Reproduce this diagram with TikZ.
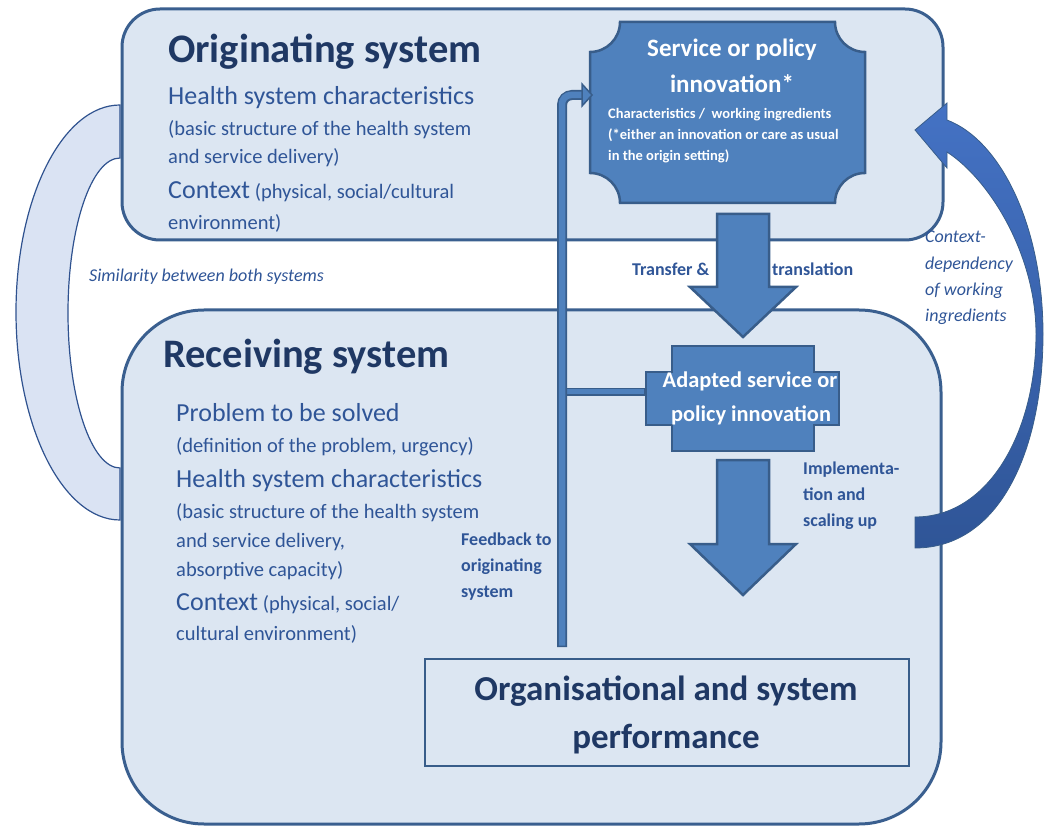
\documentclass[tikz,border=0pt]{standalone}
\usepackage{fontspec}
\setmainfont{Carlito}
\usetikzlibrary{calc}
\definecolor{sysfill}{HTML}{DCE6F2}
\definecolor{sysborder}{HTML}{3A5F8F}
\definecolor{navy}{HTML}{1F3864}
\definecolor{txtblue}{HTML}{2F5597}
\definecolor{boxblue}{HTML}{4F81BD}
\definecolor{boxborder}{HTML}{385D8A}
\definecolor{simfill}{HTML}{DAE3F3}
\definecolor{simborder}{HTML}{2F528F}
\definecolor{arrtop}{HTML}{4472C4}
\definecolor{arrbot}{HTML}{2F5597}
\newcommand\fsz[2]{\fontsize{#1}{#2}\selectfont}
\begin{document}
\begin{tikzpicture}[x=1pt,y=-1pt,
  txt/.style={inner sep=0pt, anchor=base west, text=txtblue},
  title/.style={inner sep=0pt, anchor=base west, text=navy, font=\bfseries\fsz{40.5}{46}},
  big/.style={txt, font=\fsz{26}{30}},
  small/.style={txt, font=\fsz{20.5}{24}},
  lbl/.style={txt, font=\bfseries\fsz{18}{21}},
  ital/.style={txt, font=\itshape\fsz{18}{21}},
  whitebig/.style={inner sep=0pt, anchor=base, text=white, font=\bfseries\fsz{25}{30}},
  whitesmall/.style={inner sep=0pt, anchor=base west, text=white, font=\bfseries\fsz{14.5}{17}},
  sysbox/.style={fill=sysfill, draw=sysborder, line width=3pt},
  blockarrow/.style={fill=boxblue, draw=boxborder, line width=2.5pt, line join=miter},
]
\useasboundingbox (0,0) rectangle (1045,826);

% similarity band (left)
\path[fill=simfill, draw=simborder, line width=1.2pt]
  (120,105) .. controls (62.6,105) and (16,197.7) .. (16,312)
  .. controls (16,426.3) and (62.6,520) .. (120,520)
  -- (120,468)
  .. controls (91.3,468) and (68,398.6) .. (68,313)
  .. controls (68,227.4) and (91.3,158) .. (120,158) -- cycle;

% system boxes
\draw[sysbox, rounded corners=38pt] (122,9) rectangle (943,240);
\draw[sysbox, rounded corners=82pt] (122,310) rectangle (941,824);
\node[inner sep=0pt, minimum width=0pt] (orig) at (532,124) {};
\node[inner sep=0pt] (recv) at (532,567) {};

% organisational box
\node[draw=boxborder, line width=1.2pt, minimum width=484pt, minimum height=107pt, inner sep=0pt] (perf) at (667,712.5) {};
\node[inner sep=0pt, anchor=base, text=navy, font=\bfseries\fsz{35}{40}] (perf1) at (666,700) {Organisational and system};
\node[inner sep=0pt, anchor=base, text=navy, font=\bfseries\fsz{35}{40}] (perf2) at (666,748) {performance};

% originating texts
\node[title] (otitle) at (168,63) {Originating system};
\node[big] (o1) at (168,105) {Health system characteristics};
\node[small] (o2) at (168,136) {(basic structure of the health system};
\node[small] (o3) at (168,164) {and service delivery)};
\node[small] (o4) at (168,199) {{\fsz{26}{30}Context} (physical, social/cultural};
\node[small] (o5) at (168,230) {environment)};

% receiving texts
\node[title] (rtitle) at (163,368) {Receiving system};
\node[big] (r1) at (176,422) {Problem to be solved};
\node[small] (r2) at (176,453) {(definition of the problem, urgency)};
\node[big] (r3) at (176,487) {Health system characteristics};
\node[small] (r4) at (176,518) {(basic structure of the health system};
\node[small] (r5) at (176,547) {and service delivery,};
\node[small] (r6) at (176,576) {absorptive capacity)};
\node[small] (r7) at (176,610) {{\fsz{26}{30}Context} (physical, social/};
\node[small] (r8) at (176,640) {cultural environment)};

% service / policy innovation plaque
\path[blockarrow]
  (590,52) .. controls (606.6,52) and (620,38.6) .. (620,22)
  -- (835,22) .. controls (835,38.6) and (848.4,52) .. (865,52)
  -- (865,173) .. controls (848.4,173) and (835,186.4) .. (835,203)
  -- (620,203) .. controls (620,186.4) and (606.6,173) .. (590,173) -- cycle;
\node[inner sep=0pt] (service) at (727.5,112.5) {};
\node[whitebig] (s1) at (732,57) {Service or policy};
\node[whitebig] (s2) at (732,93) {innovation*};
\node[whitesmall] (s3) at (608,119) {Characteristics /\ \ working ingredients};
\node[whitesmall] (s4) at (608,140) {(*either an innovation or care as usual};
\node[whitesmall] (s5) at (608,161) {in the origin setting)};

% adapted box (cross shape)
\path[blockarrow]
  (672,346) -- (814,346) -- (814,372) -- (839,372) -- (839,425) -- (814,425)
  -- (814,451) -- (672,451) -- (672,425) -- (646,425) -- (646,372) -- (672,372) -- cycle;
\node[inner sep=0pt] (adapted) at (743,398) {};
\node[inner sep=0pt, anchor=base, text=white, font=\bfseries\fsz{22.4}{26}] (a1) at (750,388) {Adapted service or};
\node[inner sep=0pt, anchor=base, text=white, font=\bfseries\fsz{22.4}{26}] (a2) at (751,422) {policy innovation};

% transfer arrow
\path[blockarrow] (717,214) -- (769,214) -- (769,287) -- (796,287) -- (743,337) -- (690,287) -- (717,287) -- cycle;
\node[lbl] (tr1) at (632,276) {Transfer \&};
\node[lbl] (tr2) at (772,276) {translation};

% implementation arrow
\path[blockarrow] (717,460) -- (769,460) -- (769,544) -- (796,544) -- (743,595) -- (690,544) -- (717,544) -- cycle;
\node[lbl] (im1) at (803,475) {Implementa-};
\node[lbl] (im2) at (803,500) {tion and};
\node[lbl] (im3) at (803,526) {scaling up};

% feedback arrow
\coordinate (fbstart) at (562,647);
\coordinate (fbstartin) at (562,645.5);
\coordinate (fbcorner) at (562,95);
\coordinate (fbend) at (584,95);
\coordinate (brstart) at (562,392);
\coordinate (brend) at (645,392);
\coordinate (brendin) at (643.5,392);
\draw[boxborder, line width=8pt] (brstart) -- (brend);
\draw[boxblue, line width=5pt] (brstart) -- (brendin);
\draw[boxborder, line width=10pt, rounded corners=10pt] (fbstart) -- (fbcorner) -- (fbend);
\draw[boxblue, line width=6.5pt, rounded corners=9pt] (fbstartin) -- (fbcorner) -- (fbend);
\path[fill=boxblue, draw=boxborder, line width=1.5pt, line join=miter] (582,84) -- (592,95) -- (582,106) -- cycle;
\node[lbl] (fb1) at (461,545) {Feedback to};
\node[lbl] (fb2) at (461,571) {originating};
\node[lbl] (fb3) at (461,597) {system};

% context dependency curved arrow
\path[top color=arrtop, bottom color=arrbot, draw=boxborder, line width=0.8pt]
  (915,548) .. controls (1000,548) and (1043,450) .. (1043,334)
  .. controls (1043,225) and (1000,140) .. (947,120)
  -- (947,103) -- (915,130) -- (947,168) -- (947,152)
  .. controls (990,180) and (1036,255) .. (1036,334)
  .. controls (1036,430) and (990,517) .. (915,517) -- cycle;
\node[ital] (cd1) at (925,243) {Context-};
\node[ital] (cd2) at (925,269.5) {dependency};
\node[ital] (cd3) at (925,296) {of working};
\node[ital] (cd4) at (925,322) {ingredients};

% similarity label
\node[ital] (sim) at (89,282) {Similarity between both systems};
\end{tikzpicture}
\end{document}
